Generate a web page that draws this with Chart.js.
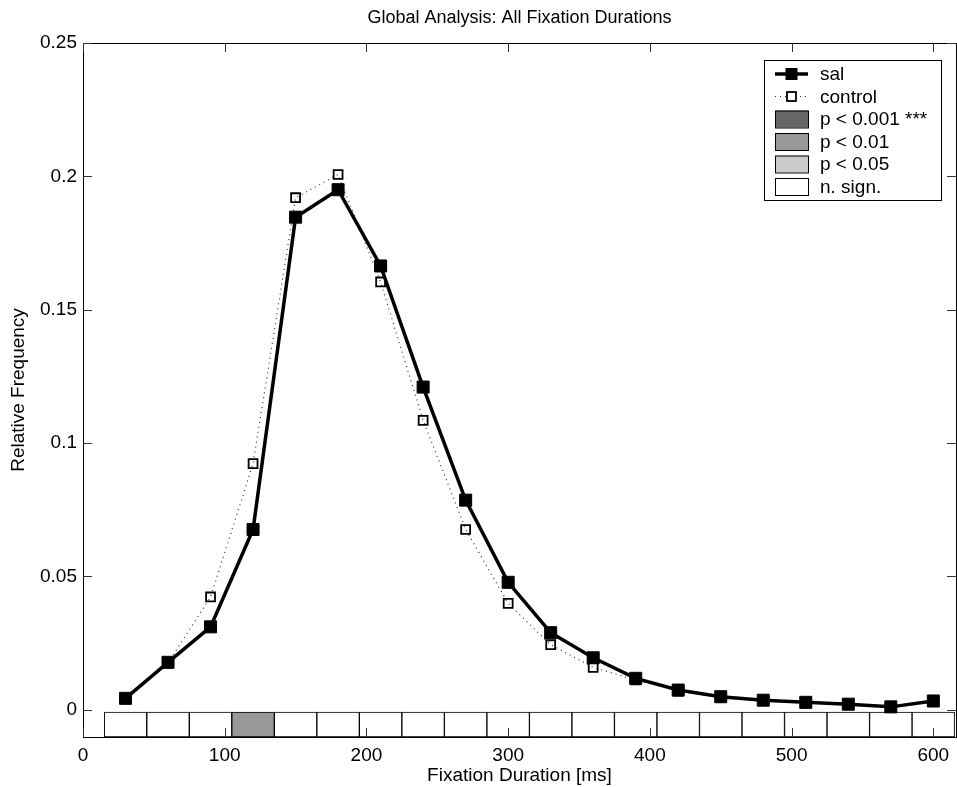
<!DOCTYPE html>
<html>
<head>
<meta charset="utf-8">
<script src="https://cdn.jsdelivr.net/npm/chart.js@4.4.1/dist/chart.umd.min.js"></script>
<style>
  body { margin: 0; background: #fff; }
</style>
</head>
<body>
<canvas id="myChart" width="957" height="787"></canvas>
<script>
const durations = [30, 60, 90, 120, 150, 180, 210, 240, 270, 300, 330, 360, 390, 420, 450, 480, 510, 540, 570, 600];
const salValues = [0.0043, 0.0178, 0.0311, 0.0676, 0.1847, 0.195, 0.1664, 0.121, 0.0786, 0.0478, 0.0289, 0.0195, 0.0118, 0.0074, 0.0049, 0.0036, 0.0028, 0.0021, 0.0011, 0.0033];
const controlValues = [0.0043, 0.0176, 0.0423, 0.0923, 0.192, 0.2007, 0.1604, 0.1085, 0.0676, 0.0399, 0.0244, 0.0159, 0.0112, 0.0070, 0.0047, 0.0035, 0.0026, 0.0020, 0.0012, 0.0031];
const binSignificance = ["n.s.", "n.s.", "n.s.", "p<0.01", "n.s.", "n.s.", "n.s.", "n.s.", "n.s.", "n.s.", "n.s.", "n.s.", "n.s.", "n.s.", "n.s.", "n.s.", "n.s.", "n.s.", "n.s.", "n.s."];
const xTicks = [0, 100, 200, 300, 400, 500, 600];
const yTicks = [0, 0.05, 0.1, 0.15, 0.2, 0.25];
const yTickLabels = ["0", "0.05", "0.1", "0.15", "0.2", "0.25"];
const legendLabels = ["sal", "control", "p < 0.001 ***", "p < 0.01", "p < 0.05", "n. sign."];

const sigColors = { "p<0.001": "#666666", "p<0.01": "#999999", "p<0.05": "#cccccc", "n.s.": "#ffffff" };
const FONT = "'Liberation Sans', Arial, Helvetica, sans-serif";
const yMin = -0.0102;
const stripTop = -0.0009;

// frame + inward ticks, matlab style
const axesFrame = {
  id: "axesFrame",
  afterDraw(chart) {
    const ctx = chart.ctx;
    const a = chart.chartArea;
    const xs = chart.scales.x;
    const ys = chart.scales.y;
    ctx.save();
    ctx.strokeStyle = "#000";
    ctx.lineWidth = 1;
    ctx.strokeRect(Math.round(a.left) + 0.5, Math.round(a.top) + 0.5, Math.round(a.right - a.left), Math.round(a.bottom - a.top));
    ctx.strokeStyle = "#333";
    ctx.beginPath();
    xTicks.forEach(v => {
      const px = Math.round(xs.getPixelForValue(v)) + 0.5;
      ctx.moveTo(px, a.bottom); ctx.lineTo(px, a.bottom - 9);
      ctx.moveTo(px, a.top); ctx.lineTo(px, a.top + 9);
    });
    yTicks.forEach(v => {
      const py = Math.round(ys.getPixelForValue(v)) + 0.5;
      ctx.moveTo(a.left, py); ctx.lineTo(a.left + 9, py);
      ctx.moveTo(a.right, py); ctx.lineTo(a.right - 9, py);
    });
    ctx.stroke();
    ctx.restore();
  }
};

const boxLegend = {
  id: "boxLegend",
  afterDraw(chart) {
    const ctx = chart.ctx;
    const bx = 764, by = 60, bw = 177, bh = 140;
    const rowH = 22.5;
    const sx0 = 775, sx1 = 808, sxm = (sx0 + sx1) / 2;
    const patchColors = ["#666666", "#999999", "#cccccc", "#ffffff"];
    ctx.save();
    ctx.fillStyle = "#fff";
    ctx.fillRect(bx, by, bw, bh);
    ctx.strokeStyle = "#000";
    ctx.lineWidth = 1;
    ctx.strokeRect(bx + 0.5, by + 0.5, bw, bh);

    for (let i = 0; i < legendLabels.length; i++) {
      const cy = by + 14 + i * rowH;
      if (i === 0) {
        ctx.strokeStyle = "#000";
        ctx.lineWidth = 3.5;
        ctx.beginPath(); ctx.moveTo(sx0, cy); ctx.lineTo(sx1, cy); ctx.stroke();
        ctx.fillStyle = "#000";
        ctx.fillRect(sxm - 6, cy - 6, 12, 12);
      } else if (i === 1) {
        ctx.strokeStyle = "#333";
        ctx.lineWidth = 1.2;
        ctx.setLineDash([1, 4]);
        ctx.beginPath(); ctx.moveTo(sx0, cy); ctx.lineTo(sx1, cy); ctx.stroke();
        ctx.setLineDash([]);
        ctx.fillStyle = "#fff";
        ctx.fillRect(sxm - 4.5, cy - 4.5, 9, 9);
        ctx.strokeStyle = "#000";
        ctx.lineWidth = 1.8;
        ctx.strokeRect(sxm - 4.5, cy - 4.5, 9, 9);
      } else {
        ctx.fillStyle = patchColors[i - 2];
        ctx.fillRect(sx0, cy - 8.5, sx1 - sx0, 17);
        ctx.strokeStyle = "#000";
        ctx.lineWidth = 1;
        ctx.strokeRect(sx0 + 0.5, cy - 8, sx1 - sx0, 17);
      }
      ctx.fillStyle = "#000";
      ctx.font = "19px " + FONT;
      ctx.textBaseline = "middle";
      ctx.textAlign = "left";
      ctx.fillText(legendLabels[i], 820, cy + 1);
    }
    ctx.restore();
  }
};

function renderChart() {
  const ctx = document.getElementById("myChart");

  const salPoints = [];
  const controlPoints = [];
  const stripBars = [];
  const stripColors = [];
  for (let i = 0; i < durations.length; i++) {
    salPoints.push({ x: durations[i], y: salValues[i] });
    controlPoints.push({ x: durations[i], y: controlValues[i] });
    stripBars.push({ x: durations[i], y: [yMin, stripTop] });
    stripColors.push(sigColors[binSignificance[i]]);
  }

  new Chart(ctx, {
    type: "line",
    data: {
      datasets: [
        {
          label: "sal",
          data: salPoints,
          borderColor: "#000",
          borderWidth: 3.5,
          pointStyle: "rect",
          pointRadius: 8.5,
          pointBackgroundColor: "#000",
          pointBorderColor: "#000",
          pointBorderWidth: 1,
          tension: 0,
        },
        {
          label: "control",
          data: controlPoints,
          borderColor: "#333",
          borderWidth: 1.2,
          borderDash: [1, 4],
          pointStyle: "rect",
          pointRadius: 6.3,
          pointBackgroundColor: "rgba(0,0,0,0)",
          pointBorderColor: "#000",
          pointBorderWidth: 1.8,
          tension: 0,
        },
        {
          type: "bar",
          label: "significance",
          data: stripBars,
          backgroundColor: stripColors,
          borderColor: "#000",
          borderWidth: 1,
          borderSkipped: false,
          barPercentage: 1,
          categoryPercentage: 1,
          grouped: false,
        },
      ],
    },
    options: {
      responsive: false,
      animation: false,
      layout: { autoPadding: false, padding: { left: 0, right: 1, top: 0, bottom: 0 } },
      plugins: {
        legend: { display: false },
        tooltip: { enabled: false },
        title: {
          display: true,
          fullSize: false,
          text: "Global Analysis: All Fixation Durations",
          color: "#000",
          font: { family: FONT, size: 18, weight: "normal" },
          padding: { top: 7, bottom: 14.4 },
        },
      },
      scales: {
        x: {
          type: "linear",
          min: 0,
          max: 616,
          offset: false,
          afterBuildTicks: s => { s.ticks = xTicks.map(v => ({ value: v })); },
          afterFit: s => { s.height = 50; s.paddingLeft = 0; s.paddingRight = 0; },
          grid: { display: false, drawTicks: false, offset: false },
          border: { display: false },
          ticks: { color: "#000", padding: 7, font: { family: FONT, size: 19 }, maxRotation: 0 },
          title: {
            display: true,
            text: "Fixation Duration [ms]",
            color: "#000",
            font: { family: FONT, size: 19 },
            padding: { top: 0, bottom: 0 },
          },
        },
        y: {
          min: yMin,
          max: 0.25,
          afterBuildTicks: s => { s.ticks = yTicks.map(v => ({ value: v })); },
          afterFit: s => { s.width = 83; },
          grid: { display: false, drawTicks: false },
          border: { display: false },
          ticks: {
            color: "#000",
            padding: 6,
            font: { family: FONT, size: 19 },
            callback: v => {
              const k = yTicks.indexOf(v);
              return k >= 0 ? yTickLabels[k] : "";
            },
          },
          title: {
            display: true,
            text: "Relative Frequency",
            color: "#000",
            font: { family: FONT, size: 19 },
            padding: { top: 7, bottom: 0 },
          },
        },
      },
    },
    plugins: [axesFrame, boxLegend],
  });
}
renderChart();
</script>
</body>
</html>
